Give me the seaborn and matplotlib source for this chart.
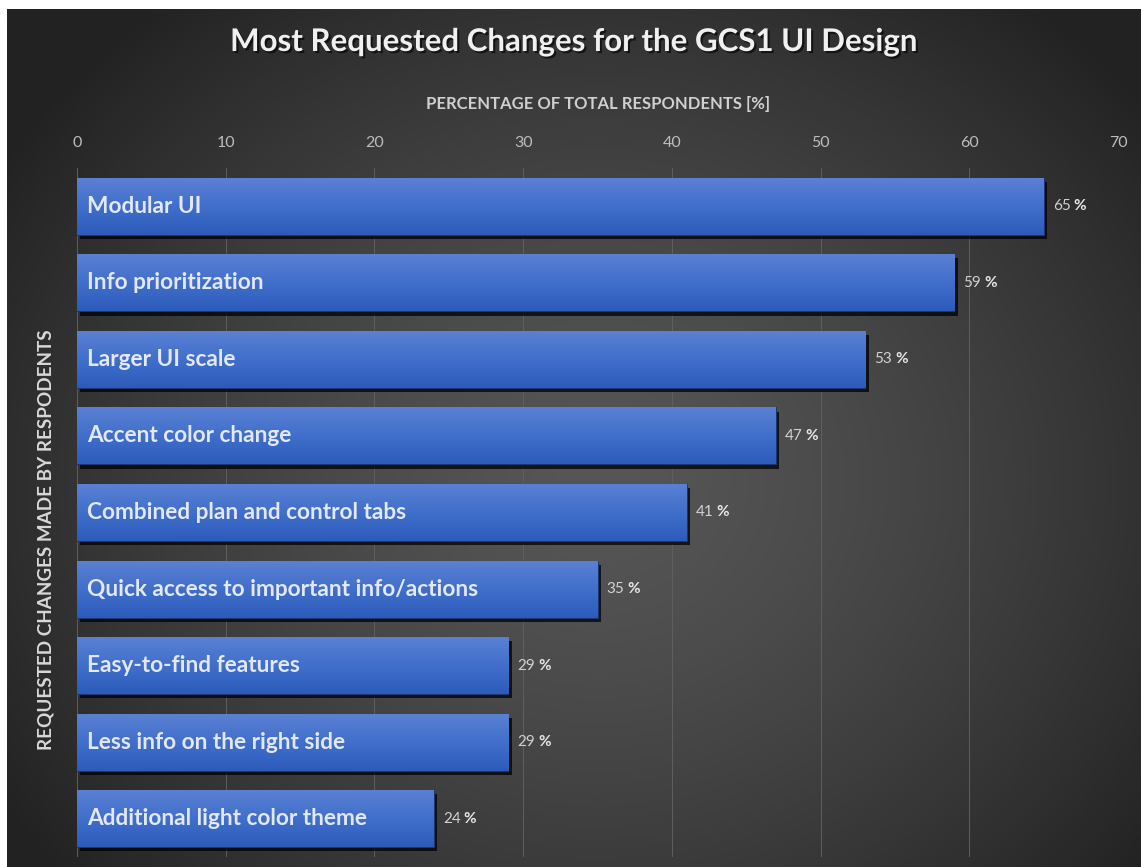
import numpy as np
import pandas as pd
import matplotlib
matplotlib.use("Agg")
import matplotlib.pyplot as plt
import seaborn as sns
from matplotlib import patheffects as pe

categories = [
    "Modular UI",
    "Info prioritization",
    "Larger UI scale",
    "Accent color change",
    "Combined plan and control tabs",
    "Quick access to important info/actions",
    "Easy-to-find features",
    "Less info on the right side",
    "Additional light color theme",
]
values = [65, 59, 53, 47, 41, 35, 29, 29, 24]
x_ticks = [0, 10, 20, 30, 40, 50, 60, 70]
title = "Most Requested Changes for the GCS1 UI Design"
x_label = "PERCENTAGE OF TOTAL RESPONDENTS [%]"
y_label = "REQUESTED CHANGES MADE BY RESPODENTS"

sns.set_theme(style="dark")
plt.rcParams['font.family'] = ['Lato', 'DejaVu Sans']

W, H = 1141, 867
fig = plt.figure(figsize=(W / 100, H / 100), dpi=100, facecolor='white')

# background radial gradient (chart area, white margin top/left)
bg = fig.add_axes([7 / W, 0, 1 - 7 / W, (H - 9) / H], zorder=-10)
h, w = 300, 400
yy, xx = np.mgrid[0:h, 0:w]
cx, cy = w * 0.52, h * 0.55
r = np.sqrt(((xx - cx) / (w * 0.62)) ** 2 + ((yy - cy) / (h * 0.72)) ** 2)
inner = np.array([0x56, 0x56, 0x56]) / 255
outer = np.array([0x22, 0x22, 0x22]) / 255
t = np.clip(r, 0, 1) ** 1.4
img = inner * (1 - t)[..., None] + outer * t[..., None]
bg.imshow(img, aspect='auto', extent=[0, 1, 0, 1], interpolation='bilinear')
bg.axis('off')

# main axes
ax = fig.add_axes([77 / W, 10 / H, (1118 - 77) / W, (857 - 168) / H])
ax.set_facecolor('none')

df = pd.DataFrame({"category": categories, "value": values})
sns.barplot(data=df, x="value", y="category", order=categories, orient="h",
            color="#3f6cc8", width=0.745, ax=ax, zorder=3)

ax.set_xlim(x_ticks[0], x_ticks[-1])
ax.set_xticks(x_ticks)
ax.xaxis.tick_top()
ax.tick_params(axis='x', length=0, pad=13, labelsize=11.5, labelcolor='#bdbdbd')
ax.set_yticks([])
ax.set_ylabel("")
ax.grid(axis='x', color='#5f5f5f', lw=0.7, zorder=0)
ax.grid(axis='y', visible=False)
for s in ax.spines.values():
    s.set_visible(False)

ax.set_xlabel(x_label, fontsize=12, fontweight='bold', color='#d0d0d0')
ax.xaxis.set_label_position('top')
ax.xaxis.set_label_coords(0.5005, (857 - 104) / (857 - 168))
ax.xaxis.label.set_va('center')

# gradient fill + shadow for bars
grad_top = np.array([0x5b, 0x81, 0xd3]) / 255
grad_mid = np.array([0x41, 0x6f, 0xcb]) / 255
grad_bot = np.array([0x2d, 0x5b, 0xbb]) / 255
n = 64
tt = np.linspace(0, 1, n)[:, None]
col = np.where(tt < 0.5, grad_top * (1 - tt * 2) + grad_mid * (tt * 2),
               grad_mid * (1 - (tt - 0.5) * 2) + grad_bot * ((tt - 0.5) * 2))
grad_img = col[:, None, :]

ylim = ax.get_ylim()
for p in list(ax.patches):
    p.set_edgecolor('#1d3672')
    p.set_linewidth(0.8)
    p.set_path_effects([pe.SimplePatchShadow(offset=(2.5, -3), shadow_rgbFace='black', alpha=0.75),
                        pe.Normal()])
    bb = p.get_bbox()
    im = ax.imshow(grad_img, extent=[bb.x0, bb.x1, bb.y1, bb.y0], aspect='auto',
                   origin='upper', zorder=3.5, interpolation='bilinear')
    im.set_clip_path(p)
ax.set_ylim(ylim)
ax.set_xlim(x_ticks[0], x_ticks[-1])

# labels inside bars and value labels
for i, (cat, v) in enumerate(zip(categories, values)):
    ax.annotate(cat, xy=(0, i), xytext=(7.5, 0), textcoords='offset points',
                ha='left', va='center', fontsize=16.3, fontweight='bold',
                color='#e3e8f2', zorder=5)
    ax.annotate(f"{v}", xy=(v, i), xytext=(6.5, 0), textcoords='offset points',
                ha='left', va='center', fontsize=11, color='#d2d2d2', zorder=5)
    ax.annotate("%", xy=(v, i), xytext=(21.5, 0), textcoords='offset points',
                ha='left', va='center', fontsize=11, fontweight='bold',
                color='#e6e6e6', zorder=5)

fig.text(574 / W, 1 - 42 / H, title, ha='center', va='center', fontsize=22.5,
         fontweight='bold', color='#f0f0f0',
         path_effects=[pe.withSimplePatchShadow(offset=(1.5, -1.5), shadow_rgbFace='black', alpha=0.6)])
fig.text(46 / W, 1 - 540 / H, y_label, ha='center', va='center', rotation=90,
         fontsize=13.6, fontweight='bold', color='#d8d8d8')

fig.savefig("out.png", dpi=100, facecolor=fig.get_facecolor())
